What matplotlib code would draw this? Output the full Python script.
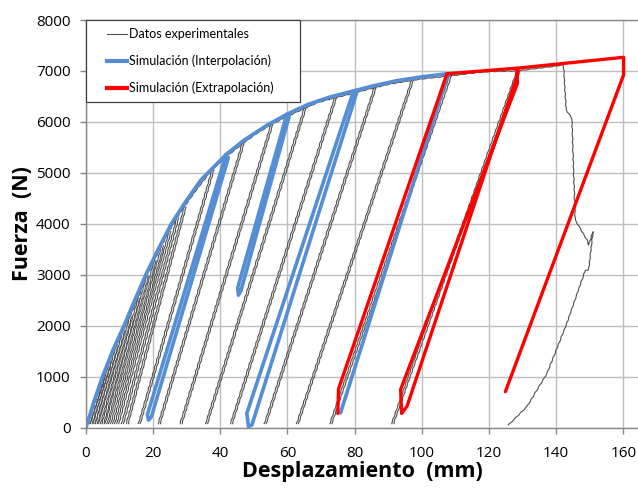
import matplotlib
matplotlib.use("Agg")
import matplotlib.pyplot as plt
from matplotlib.lines import Line2D
from matplotlib.patches import Rectangle
from matplotlib.transforms import ScaledTranslation

# Ensayo: envolvente experimental fuerza-desplazamiento (mm, N)
env_x = [0, 2.2, 5, 7, 9, 11, 13, 15.5, 18, 20.3, 22.5, 24.7, 27, 29.2, 33, 37.5,
         42, 46.4, 50.5, 55, 60, 64.9, 69, 74, 80, 85.8, 91, 96.9, 102, 108.2,
         114, 119.4, 124, 128.3, 133, 138, 142.2]
env_f = [0, 430, 960, 1290, 1610, 1900, 2170, 2540, 2970, 3280, 3570, 3850, 4110,
         4330, 4680, 5060, 5330, 5560, 5760, 5940, 6110, 6260, 6380, 6470, 6570,
         6670, 6750, 6815, 6860, 6900, 6950, 6986, 6995, 7000, 7040, 7080, 7117]

# ciclos de descarga/recarga: pico en la envolvente y pie de la descarga
cyc_top_x = [5, 7, 9, 11, 13, 15.5, 18, 20.3, 22.5, 24.7, 27, 29.2, 37.5, 46.4,
             55, 64.9, 74, 85.8, 96.9, 108.2, 128.3]
cyc_top_f = [960, 1290, 1610, 1900, 2170, 2540, 2970, 3280, 3570, 3850, 4110,
             4330, 5060, 5560, 5940, 6260, 6470, 6670, 6815, 6900, 7000]
cyc_bot_x = [0.6, 1.3, 2.1, 2.8, 3.7, 4.7, 5.7, 6.8, 8.0, 9.2, 10.6, 12.0, 15.6,
             21.5, 28.0, 35.6, 43.0, 53.1, 62.7, 72.6, 91.0]
cyc_bot_f = [80] * len(cyc_bot_x)

# rotura y descarga final
fail_x = [142.2, 143.0, 144.7, 145.7, 149.2, 149.7, 151.0, 149.7, 148.7, 143.2,
          137.3, 131.3, 125.8]
fail_f = [7117, 6235, 6071, 4076, 3683, 3586, 3847, 3095, 3090, 2048, 1067,
          412, 53]

# simulacion (interpolacion)
sim_x = [0, 2.2, 4.9, 8, 11.3, 14.5, 17.8, 21.5, 25.4, 29.5, 34.2, 41.7, 47,
         53.8, 59.8, 66, 72.7, 79.7, 86, 92.6, 100, 107.5]
sim_f = [0, 480, 1000, 1520, 2000, 2500, 3000, 3500, 4000, 4420, 4860, 5360,
         5640, 5930, 6150, 6340, 6490, 6610, 6715, 6810, 6885, 6945]
loop_a_x = [41.7, 18.3, 18.6, 19.5, 42.4]
loop_a_f = [5360, 260, 150, 220, 5300]
loop_b_x = [59.8, 45.2, 45.4, 46.2, 60.5]
loop_b_f = [6150, 2750, 2600, 2700, 6110]
loop_c_x = [79.7, 47.9, 48.4, 49.4, 80.6]
loop_c_f = [6610, 282, 20, 53, 6570]
loop_d_x = [107.8, 75.8]
loop_d_f = [6940, 290]

# simulacion (extrapolacion)
ext_x = [75.0, 75.2, 107.5, 128.3, 128.5, 93.7, 94.0, 95.6, 128.7, 128.7,
         160.1, 160.1, 124.9]
ext_f = [280, 760, 6945, 7055, 6760, 750, 280, 420, 6960, 7056, 7268, 6921, 707]

GRAY = "#505050"
BLUE = "#558ED5"
RED = "#FF0000"
GRID = "#BFBFBF"
AXIS = "#868686"

plt.rcParams["font.family"] = ["Open Sans", "DejaVu Sans"]

W, H = 638, 488
fig = plt.figure(figsize=(W / 100, H / 100), dpi=100)
ax = fig.add_axes([86 / W, 60.3 / H, 552 / W, 407.7 / H])

sketch = dict(scale=0.3, length=8, randomness=1.5)

ln, = ax.plot(env_x, env_f, color=GRAY, lw=0.8)
ln.set_sketch_params(**sketch)
shift = ScaledTranslation(2 / 100, 0, fig.dpi_scale_trans)
for tx, tf, bx, bf in zip(cyc_top_x, cyc_top_f, cyc_bot_x, cyc_bot_f):
    for tr in (ax.transData, ax.transData + shift):
        ln, = ax.plot([tx, bx], [tf, bf], color=GRAY, lw=0.8, transform=tr)
        ln.set_sketch_params(**sketch)
ln, = ax.plot(fail_x, fail_f, color=GRAY, lw=0.8)
ln.set_sketch_params(**sketch)

for xs, fs in [(sim_x, sim_f), (loop_a_x, loop_a_f), (loop_b_x, loop_b_f),
               (loop_c_x, loop_c_f), (loop_d_x, loop_d_f)]:
    ax.plot(xs, fs, color=BLUE, lw=2.6, solid_joinstyle="round",
            solid_capstyle="round")
ax.plot(ext_x, ext_f, color=RED, lw=2.4, solid_joinstyle="round",
        solid_capstyle="round")

ax.set_xlim(0, 164.4)
ax.set_ylim(0, 8000)
ax.set_xticks(range(0, 161, 20))
ax.set_yticks(range(0, 8001, 1000))
ax.grid(True, color=GRID, lw=1.0)
ax.set_axisbelow(True)
for side in ("left", "bottom", "top"):
    ax.spines[side].set_color(AXIS)
    ax.spines[side].set_linewidth(1.0)
ax.spines["right"].set_visible(False)
ax.tick_params(length=4, width=1.0, color=AXIS, labelsize=11,
               labelcolor="#000000")
ax.tick_params(axis="x", pad=9)
ax.tick_params(axis="y", pad=7)

ax.set_xlabel("Desplazamiento  (mm)", fontsize=15.5, fontweight="bold",
              labelpad=0)
ax.set_ylabel("Fuerza  (N)", fontsize=15.5, fontweight="bold", labelpad=2)

# leyenda en la esquina superior izquierda del area de trazado
def px(x, y):
    return x / W, 1 - y / H

labels = ["Datos experimentales", "Simulación (Interpolación)",
          "Simulación (Extrapolación)"]
styles = [(GRAY, 0.8), (BLUE, 3.0), (RED, 3.0)]
fig.add_artist(Rectangle(px(86, 102), 214 / W, 82 / H, transform=fig.transFigure,
                         facecolor="white", edgecolor="#404040", lw=0.9,
                         zorder=5))
for row, (label, (color, lw)) in enumerate(zip(labels, styles)):
    y = 34 + 27 * row
    fig.add_artist(Line2D([107 / W, 127 / W], [1 - y / H] * 2, color=color,
                          lw=lw, transform=fig.transFigure, zorder=6))
    fig.text(*px(129, y), label, fontsize=9, family=["Lato", "DejaVu Sans"],
             va="center", ha="left", zorder=6)

fig.savefig("out.png", dpi=100)
